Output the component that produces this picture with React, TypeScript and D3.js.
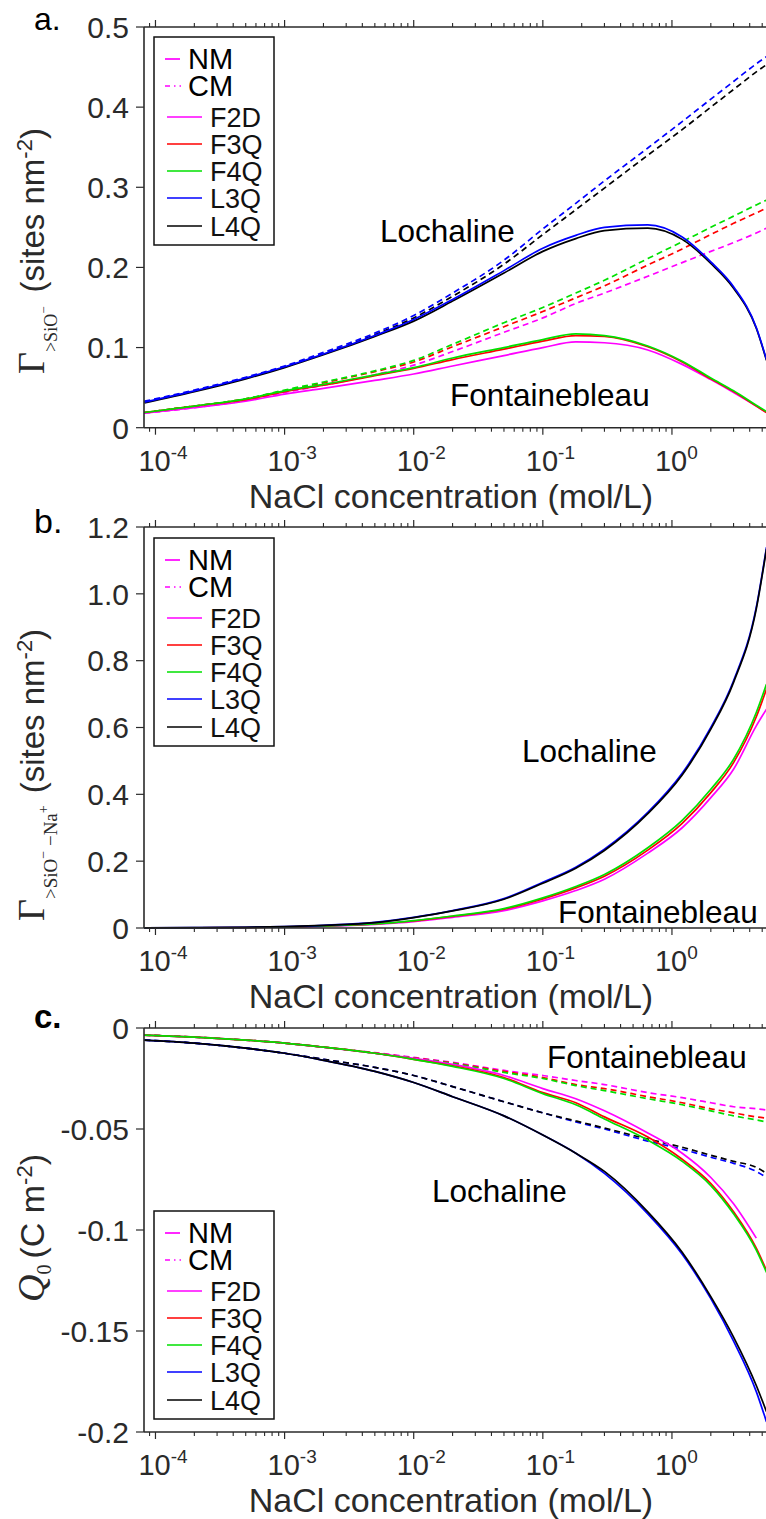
import * as d3 from "d3";

// NaCl concentration (mol/L) at which every curve is sampled
const conc = [8.2e-5, 2e-4, 5e-4, 1e-3, 2e-3, 5e-3, 1e-2, 2e-2, 5e-2, 0.1, 0.18, 0.3, 0.65, 1.2, 2.0, 3.0, 4.5, 5.4];

// panel a: Gamma >SiO-
const aF2D_NM = [0.018, 0.025, 0.033, 0.042, 0.049, 0.059, 0.067, 0.077, 0.090, 0.100, 0.107, 0.106, 0.097, 0.079, 0.060, 0.044, 0.027, 0.019];
const aF3Q_NM = [0.019, 0.027, 0.035, 0.045, 0.053, 0.065, 0.074, 0.085, 0.098, 0.108, 0.115, 0.114, 0.101, 0.082, 0.061, 0.045, 0.027, 0.019];
const aF4Q_NM = [0.019, 0.027, 0.036, 0.046, 0.054, 0.066, 0.075, 0.087, 0.100, 0.110, 0.117, 0.115, 0.102, 0.083, 0.062, 0.046, 0.028, 0.020];
const aL3Q_NM = [0.032, 0.046, 0.062, 0.076, 0.092, 0.115, 0.135, 0.160, 0.196, 0.224, 0.240, 0.250, 0.253, 0.238, 0.207, 0.176, 0.125, 0.085];
const aL4Q_NM = [0.031, 0.045, 0.061, 0.075, 0.091, 0.114, 0.133, 0.158, 0.193, 0.220, 0.236, 0.246, 0.249, 0.235, 0.205, 0.174, 0.124, 0.084];
const aF2D_CM = [0.018, 0.025, 0.034, 0.044, 0.053, 0.066, 0.078, 0.095, 0.119, 0.137, 0.155, 0.168, 0.189, 0.206, 0.220, 0.231, 0.243, 0.249];
const aF3Q_CM = [0.019, 0.027, 0.036, 0.046, 0.056, 0.070, 0.082, 0.101, 0.126, 0.145, 0.162, 0.177, 0.203, 0.223, 0.241, 0.255, 0.268, 0.274];
const aF4Q_CM = [0.019, 0.027, 0.036, 0.047, 0.057, 0.071, 0.084, 0.104, 0.131, 0.150, 0.168, 0.184, 0.211, 0.232, 0.250, 0.264, 0.278, 0.284];
const aL3Q_CM = [0.033, 0.047, 0.063, 0.077, 0.094, 0.118, 0.140, 0.168, 0.209, 0.248, 0.280, 0.308, 0.349, 0.382, 0.410, 0.432, 0.454, 0.463];
const aL4Q_CM = [0.032, 0.046, 0.062, 0.076, 0.092, 0.116, 0.137, 0.164, 0.204, 0.241, 0.272, 0.299, 0.340, 0.372, 0.400, 0.422, 0.444, 0.453];

// panel b: Gamma >SiO- -Na+
const bF2D = [0.0003, 0.0006, 0.0014, 0.003, 0.005, 0.011, 0.019, 0.032, 0.052, 0.081, 0.112, 0.146, 0.224, 0.300, 0.390, 0.475, 0.605, 0.655];
const bF3Q = [0.0003, 0.0007, 0.0015, 0.003, 0.006, 0.012, 0.021, 0.035, 0.056, 0.087, 0.120, 0.155, 0.233, 0.313, 0.405, 0.495, 0.632, 0.715];
const bF4Q = [0.0003, 0.0007, 0.0015, 0.003, 0.006, 0.012, 0.022, 0.036, 0.058, 0.090, 0.124, 0.160, 0.240, 0.322, 0.415, 0.505, 0.645, 0.730];
const bL3Q = [0.0005, 0.001, 0.002, 0.004, 0.008, 0.017, 0.032, 0.052, 0.088, 0.137, 0.182, 0.236, 0.346, 0.463, 0.600, 0.740, 0.960, 1.140];
const bL4Q = [0.0005, 0.001, 0.002, 0.004, 0.008, 0.016, 0.031, 0.051, 0.086, 0.134, 0.179, 0.232, 0.342, 0.458, 0.595, 0.735, 0.955, 1.135];

// panel c: Q0 (C m-2)
const cF2D_NM = [-0.0035, -0.0045, -0.006, -0.0075, -0.0095, -0.0125, -0.015, -0.018, -0.0235, -0.030, -0.035, -0.041, -0.052, -0.062, -0.074, -0.087, -0.104, null];
const cF3Q_NM = [-0.0035, -0.0045, -0.006, -0.0075, -0.0095, -0.0125, -0.0155, -0.0187, -0.0245, -0.032, -0.037, -0.044, -0.054, -0.065, -0.077, -0.091, -0.109, -0.120];
const cF4Q_NM = [-0.0035, -0.0045, -0.006, -0.0075, -0.0095, -0.0125, -0.0155, -0.019, -0.025, -0.0325, -0.038, -0.045, -0.0555, -0.066, -0.078, -0.092, -0.110, -0.121];
const cL3Q_NM = [-0.006, -0.0075, -0.010, -0.0125, -0.016, -0.0215, -0.027, -0.034, -0.0435, -0.053, -0.062, -0.072, -0.092, -0.112, -0.134, -0.155, -0.180, -0.195];
const cL4Q_NM = [-0.006, -0.0075, -0.010, -0.0125, -0.016, -0.0215, -0.027, -0.034, -0.0435, -0.053, -0.062, -0.071, -0.091, -0.111, -0.133, -0.153, -0.177, -0.190];
const cF2D_CM = [-0.0035, -0.0045, -0.006, -0.0075, -0.0095, -0.0122, -0.0145, -0.017, -0.021, -0.0235, -0.026, -0.028, -0.032, -0.0345, -0.037, -0.039, -0.040, -0.0406];
const cF3Q_CM = [-0.0035, -0.0045, -0.006, -0.0075, -0.0095, -0.0124, -0.0148, -0.0173, -0.0215, -0.0245, -0.028, -0.030, -0.034, -0.037, -0.040, -0.042, -0.044, -0.0446];
const cF4Q_CM = [-0.0035, -0.0045, -0.006, -0.0075, -0.0095, -0.0125, -0.015, -0.0175, -0.022, -0.025, -0.0285, -0.031, -0.035, -0.038, -0.041, -0.0435, -0.0455, -0.0465];
const cL3Q_CM = [-0.006, -0.0075, -0.010, -0.0125, -0.0155, -0.0195, -0.0235, -0.029, -0.0365, -0.042, -0.0465, -0.050, -0.056, -0.060, -0.064, -0.067, -0.071, -0.074];
const cL4Q_CM = [-0.006, -0.0075, -0.010, -0.0125, -0.0155, -0.0195, -0.0235, -0.029, -0.0365, -0.042, -0.046, -0.0495, -0.055, -0.059, -0.063, -0.066, -0.069, -0.072];

const legendNames = ["F2D", "F3Q", "F4Q", "L3Q", "L4Q"];
const legendColors = ["#ff00ff", "#ff0000", "#00e000", "#0000ff", "#000000"];

const aTicks = [0, 0.1, 0.2, 0.3, 0.4, 0.5];
const aTickLabels = ["0", "0.1", "0.2", "0.3", "0.4", "0.5"];
const bTicks = [0, 0.2, 0.4, 0.6, 0.8, 1.0, 1.2];
const bTickLabels = ["0", "0.2", "0.4", "0.6", "0.8", "1.0", "1.2"];
const cTicks = [0, -0.05, -0.1, -0.15, -0.2];
const cTickLabels = ["0", "-0.05", "-0.1", "-0.15", "-0.2"];
const xDecades = [-4, -3, -2, -1, 0];

const SANS = "'Liberation Sans', Arial, sans-serif";
const SERIF = "'Liberation Serif', 'Times New Roman', serif";
const AX = "#2a2a2a";

const x = d3.scaleLog().domain([8.15e-5, 5.35]).range([144, 766]);

type Series = { values: (number | null)[]; color: string; dashed: boolean };

function Panel({ id, top, bottom, domain, ticks, tickLabels, series, legendTop, notes }: any) {
  const y = d3.scaleLinear().domain(domain).range([bottom, top]);
  const line = d3
    .line<[number, number | null]>()
    .defined((d) => d[1] !== null)
    .x((d) => x(d[0]))
    .y((d) => y(d[1] as number))
    .curve(d3.curveMonotoneX);
  const [x0, x1] = x.range();

  const minor: number[] = [];
  for (let e = -5; e <= 0; e++) {
    for (let k = 2; k <= 9; k++) {
      const v = k * Math.pow(10, e);
      if (v >= x.domain()[0] && v <= x.domain()[1]) minor.push(v);
    }
  }
  const major = xDecades.map((e) => Math.pow(10, e));

  const legRows = [22, 49, 80, 107, 134, 161, 189];
  const lx = 154;

  return (
    <g>
      <clipPath id={`clip-${id}`}>
        <rect x={x0} y={top - 2} width={x1 - x0 + 10} height={bottom - top + 4} />
      </clipPath>
      <g clipPath={`url(#clip-${id})`}>
        {series.map((s: Series, i: number) => (
          <path
            key={i}
            d={line(conc.map((c, j) => [c, s.values[j]]) as any) || ""}
            fill="none"
            stroke={s.color}
            strokeWidth={1.7}
            strokeDasharray={s.dashed ? "6,4" : undefined}
          />
        ))}
      </g>

      {/* frame */}
      <line x1={x0} x2={x1} y1={top} y2={top} stroke={AX} strokeWidth={1.6} />
      <line x1={x0} x2={x1} y1={bottom} y2={bottom} stroke={AX} strokeWidth={1.6} />
      <line x1={x0} x2={x0} y1={top} y2={bottom} stroke={AX} strokeWidth={1.6} />

      {/* x ticks, outward on both sides */}
      {minor.map((v, i) => (
        <g key={"m" + i}>
          <line x1={x(v)} x2={x(v)} y1={bottom} y2={bottom + 4} stroke={AX} strokeWidth={1.1} />
          <line x1={x(v)} x2={x(v)} y1={top} y2={top - 4} stroke={AX} strokeWidth={1.1} />
        </g>
      ))}
      {major.map((v, i) => (
        <g key={"M" + i}>
          <line x1={x(v)} x2={x(v)} y1={bottom} y2={bottom + 7} stroke={AX} strokeWidth={1.2} />
          <line x1={x(v)} x2={x(v)} y1={top} y2={top - 7} stroke={AX} strokeWidth={1.2} />
          <text x={x(v) - 17} y={bottom + 43} fontFamily={SANS} fontSize={29} fill={AX}>
            10
            <tspan dy={-12} fontSize={19}>
              {String(xDecades[i])}
            </tspan>
          </text>
        </g>
      ))}
      <text x={451} y={bottom + 80} textAnchor="middle" fontFamily={SANS} fontSize={34} fill={AX}>
        NaCl concentration (mol/L)
      </text>

      {/* y ticks */}
      {ticks.map((t: number, i: number) => (
        <g key={"y" + i}>
          <line x1={x0 - 8} x2={x0} y1={y(t)} y2={y(t)} stroke={AX} strokeWidth={1.2} />
          <text x={129} y={y(t)} dy="0.36em" textAnchor="end" fontFamily={SANS} fontSize={30} fill={AX}>
            {tickLabels[i]}
          </text>
        </g>
      ))}

      {/* legend */}
      <rect x={lx} y={legendTop} width={120} height={208} fill="#fff" stroke="#111" strokeWidth={1.5} />
      <line x1={lx + 11} x2={lx + 26} y1={legendTop + legRows[0]} y2={legendTop + legRows[0]} stroke="#ff00ff" strokeWidth={1.7} />
      <text x={lx + 34} y={legendTop + legRows[0] + 10} fontFamily={SANS} fontSize={29} fill="#000">
        NM
      </text>
      <line x1={lx + 11} x2={lx + 27} y1={legendTop + legRows[1]} y2={legendTop + legRows[1]} stroke="#ff00ff" strokeWidth={1.7} strokeDasharray="5,4,1.5,4" />
      <text x={lx + 34} y={legendTop + legRows[1] + 10} fontFamily={SANS} fontSize={29} fill="#000">
        CM
      </text>
      {legendNames.map((n, i) => (
        <g key={n}>
          <line x1={lx + 13} x2={lx + 48} y1={legendTop + legRows[i + 2]} y2={legendTop + legRows[i + 2]} stroke={legendColors[i]} strokeWidth={1.7} />
          <text x={lx + 56} y={legendTop + legRows[i + 2] + 10} fontFamily={SANS} fontSize={27} fill="#111">
            {n}
          </text>
        </g>
      ))}

      {notes.map((n: any, i: number) => (
        <text key={i} x={n.x} y={n.y} fontFamily={SANS} fontSize={31.5} fill="#000">
          {n.text}
        </text>
      ))}
    </g>
  );
}

function mk(values: (number | null)[], color: string, dashed: boolean): Series {
  return { values, color, dashed };
}

export default function App() {
  const [mag, red, grn, blu, blk] = legendColors;
  const seriesA = [
    mk(aF2D_CM, mag, true), mk(aF3Q_CM, red, true), mk(aF4Q_CM, grn, true),
    mk(aL4Q_CM, blk, true), mk(aL3Q_CM, blu, true),
    mk(aF2D_NM, mag, false), mk(aF3Q_NM, red, false), mk(aF4Q_NM, grn, false),
    mk(aL4Q_NM, blk, false), mk(aL3Q_NM, blu, false),
  ];
  const seriesB = [
    mk(bF2D, mag, false), mk(bF3Q, red, false), mk(bF4Q, grn, false),
    mk(bL3Q, blu, false), mk(bL4Q, blk, false),
  ];
  const seriesC = [
    mk(cF2D_CM, mag, true), mk(cF3Q_CM, red, true), mk(cF4Q_CM, grn, true),
    mk(cL3Q_CM, blu, true), mk(cL4Q_CM, blk, true),
    mk(cF2D_NM, mag, false), mk(cF3Q_NM, red, false), mk(cF4Q_NM, grn, false),
    mk(cL3Q_NM, blu, false), mk(cL4Q_NM, blk, false),
  ];

  return (
    <svg width={766} height={1519} style={{ position: "absolute", left: 0, top: 0, background: "#fff" }}>
      <rect width={766} height={1519} fill="#fff" />

      <text x={34} y={30} fontFamily={SANS} fontSize={32} fill="#000">a.</text>
      <text x={34} y={533} fontFamily={SANS} fontSize={34} fill="#000">b.</text>
      <text x={34} y={1028} fontFamily={SANS} fontSize={33} fontWeight="bold" fill="#000">c.</text>

      <Panel
        id="a" top={27} bottom={427.7} domain={[0, 0.5]} ticks={aTicks} tickLabels={aTickLabels}
        series={seriesA} legendTop={37}
        notes={[{ x: 380, y: 242, text: "Lochaline" }, { x: 450, y: 406, text: "Fontainebleau" }]}
      />
      <Panel
        id="b" top={527} bottom={928} domain={[0, 1.2]} ticks={bTicks} tickLabels={bTickLabels}
        series={seriesB} legendTop={538}
        notes={[{ x: 522, y: 762, text: "Lochaline" }, { x: 558, y: 923, text: "Fontainebleau" }]}
      />
      <Panel
        id="c" top={1028} bottom={1432} domain={[-0.2, 0]} ticks={cTicks} tickLabels={cTickLabels}
        series={seriesC} legendTop={1211}
        notes={[{ x: 547, y: 1068, text: "Fontainebleau" }, { x: 432, y: 1202, text: "Lochaline" }]}
      />

      {/* y axis titles */}
      <text transform="translate(44,374) rotate(-90)" fontFamily={SANS} fontSize={33} fill={AX}>
        <tspan fontFamily={SERIF} fontSize={38}>Γ</tspan>
        <tspan fontFamily={SERIF} fontSize={18} dy={13}>&gt;SiO</tspan>
        <tspan fontFamily={SERIF} fontSize={13} dy={-9}>−</tspan>
        <tspan dy={-4} dx={14}>(sites nm</tspan>
        <tspan fontSize={22} dy={-12}>-2</tspan>
        <tspan dy={12}>)</tspan>
      </text>
      <text transform="translate(44,921) rotate(-90)" fontFamily={SANS} fontSize={33} fill={AX}>
        <tspan fontFamily={SERIF} fontSize={38}>Γ</tspan>
        <tspan fontFamily={SERIF} fontSize={19} dy={13}>&gt;SiO</tspan>
        <tspan fontFamily={SERIF} fontSize={14} dy={-9}>−</tspan>
        <tspan fontFamily={SERIF} fontSize={19} dy={9}> −Na</tspan>
        <tspan fontFamily={SERIF} fontSize={14} dy={-9}>+</tspan>
        <tspan dy={-4} dx={12}>(sites nm</tspan>
        <tspan fontSize={22} dy={-12}>-2</tspan>
        <tspan dy={12}>)</tspan>
      </text>
      <text transform="translate(44,1302) rotate(-90)" fontFamily={SANS} fontSize={34} fill={AX}>
        <tspan fontFamily={SERIF} fontStyle="italic" fontSize={38}>Q</tspan>
        <tspan fontFamily={SERIF} fontSize={20} dy={7}>0</tspan>
        <tspan dy={-7} dx={6}>(C m</tspan>
        <tspan fontSize={22} dy={-12}>-2</tspan>
        <tspan dy={12}>)</tspan>
      </text>
    </svg>
  );
}
